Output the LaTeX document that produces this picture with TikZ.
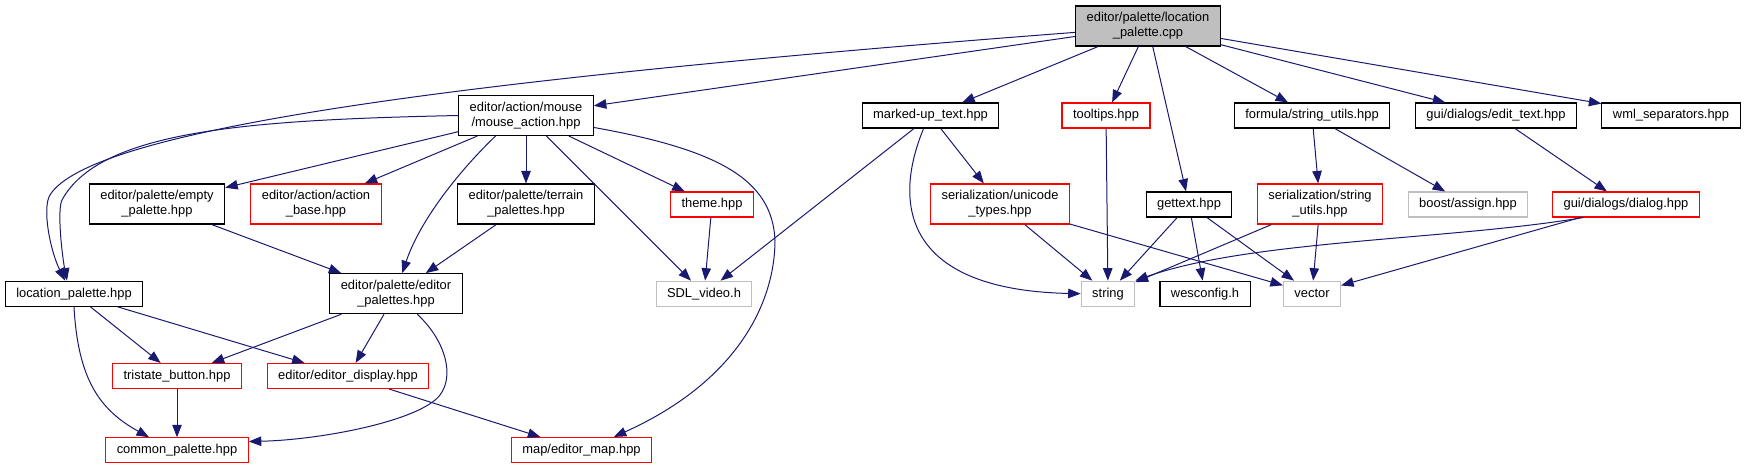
\documentclass[tikz,border=0pt]{standalone}
\usepackage{fontspec}
\setmainfont{Liberation Sans}
\usetikzlibrary{arrows.meta}

\definecolor{edgeblue}{HTML}{191970}
\definecolor{nodegray}{HTML}{BFBFBF}

\begin{document}
\begin{tikzpicture}[
    x=1pt, y=-1pt,
    >={Triangle[length=12.5pt, width=9.5pt]},
    filebox/.style={draw, rectangle, line width=1.1pt, font=\fontsize{12.9}{15}\selectfont, align=center, inner xsep=11pt, inner ysep=2pt, minimum height=25pt},
    twoline/.style={minimum height=40pt},
    redbox/.style={filebox, draw=red},
    graybox/.style={filebox, draw=nodegray},
    rootbox/.style={filebox, twoline, fill=nodegray},
    dep/.style={->, edgeblue, line width=1pt}
]
\useasboundingbox (0,0) rectangle (1745,469);

% 1. Root file
\node[rootbox] (root) at (1148,26) {editor/palette/location\\\_palette.cpp};

% 2. First row of includes
\node[filebox, twoline] (mouse) at (526,115.5) {editor/action/mouse\\/mouse\_action.hpp};
\node[filebox] (marked) at (930.5,115.5) {marked-up\_text.hpp};
\node[redbox] (tooltips) at (1106,115.5) {tooltips.hpp};
\node[filebox] (fstrutil) at (1312,115.5) {formula/string\_utils.hpp};
\node[filebox] (edittext) at (1496,115.5) {gui/dialogs/edit\_text.hpp};
\node[filebox] (wmlsep) at (1671,115.5) {wml\_separators.hpp};

% 3. Second row
\node[filebox, twoline] (empty) at (157,204) {editor/palette/empty\\\_palette.hpp};
\node[redbox, twoline] (actbase) at (316,204) {editor/action/action\\\_base.hpp};
\node[filebox, twoline] (terrain) at (526,204) {editor/palette/terrain\\\_palettes.hpp};
\node[redbox] (theme) at (712,204.5) {theme.hpp};
\node[redbox, twoline] (unicode) at (1000,204) {serialization/unicode\\\_types.hpp};
\node[filebox] (gettext) at (1189,204.5) {gettext.hpp};
\node[redbox, twoline] (sstrutil) at (1320,204) {serialization/string\\\_utils.hpp};
\node[graybox] (assign) at (1468,204.5) {boost/assign.hpp};
\node[redbox] (dialog) at (1626,204.5) {gui/dialogs/dialog.hpp};

% 4. Third row
\node[filebox] (locpal) at (74,293.7) {location\_palette.hpp};
\node[filebox, twoline] (edpal) at (396,293.7) {editor/palette/editor\\\_palettes.hpp};
\node[graybox] (sdl) at (704,293.7) {SDL\_video.h};
\node[graybox] (str) at (1108,293.7) {string};
\node[filebox] (wesconfig) at (1205,293.7) {wesconfig.h};
\node[graybox] (vector) at (1312,293.7) {vector};

% 5. Bottom rows
\node[redbox] (tristate) at (177,376) {tristate\_button.hpp};
\node[redbox] (display) at (348,376) {editor/editor\_display.hpp};
\node[redbox] (common) at (177,450.3) {common\_palette.hpp};
\node[redbox] (edmap) at (581.5,450) {map/editor\_map.hpp};

% 6. Edges from the root
\draw[dep] (root.185) .. controls (450,80) and (90,130) .. (50,195) .. controls (42,208) and (50,250) .. ([xshift=-9pt]locpal.north);
\draw[dep] (root) -- (mouse);
\draw[dep] (root) -- (marked);
\draw[dep] (root) -- (tooltips);
\draw[dep] (root) -- (gettext);
\draw[dep] (root) -- (fstrutil);
\draw[dep] (root) -- (edittext);
\draw[dep] (root) -- (wmlsep);

% 7. Edges from mouse_action.hpp
\draw[dep] (mouse.west) .. controls (250,120) and (100,130) .. (62,200) .. controls (57,210) and (62,255) .. ([xshift=-7pt]locpal.north);
\draw[dep] (mouse) -- (empty);
\draw[dep] (mouse) -- (actbase);
\draw[dep] (mouse.214) .. controls (460,170) and (420,220) .. (edpal.73);
\draw[dep] (mouse) -- (terrain);
\draw[dep] (mouse) -- (theme);
\draw[dep] (mouse) -- (sdl);
\draw[dep] (mouse.-10) .. controls (720,150) and (772,180) .. (775,240) .. controls (775,300) and (740,380) .. (edmap.22);

% 8. Middle edges
\draw[dep] (empty) -- (edpal);
\draw[dep] (terrain) -- (edpal);
\draw[dep] (theme) -- (sdl);
\draw[dep] (marked) -- (sdl);
\draw[dep] (marked.242) .. controls (890,210) and (910,290) .. (str.west);
\draw[dep] (marked) -- (unicode);
\draw[dep] (tooltips) -- (str);
\draw[dep] (unicode) -- (str);
\draw[dep] (unicode) -- (vector);
\draw[dep] (gettext) -- (str);
\draw[dep] (gettext) -- (wesconfig);
\draw[dep] (gettext) -- (vector);
\draw[dep] (fstrutil) -- (sstrutil);
\draw[dep] (fstrutil) -- (assign);
\draw[dep] (sstrutil) -- (str);
\draw[dep] (sstrutil) -- (vector);
\draw[dep] (edittext) -- (dialog);
\draw[dep] (dialog.197) .. controls (1450,240) and (1250,240) .. (str.north east);
\draw[dep] (dialog) -- (vector);

% 9. Lower left edges
\draw[dep] (locpal) -- (tristate);
\draw[dep] (locpal) -- (display);
\draw[dep] (locpal.south) .. controls (78,380) and (100,410) .. (common.155);
\draw[dep] (edpal) -- (tristate);
\draw[dep] (edpal) -- (display);
\draw[dep] (edpal.-44) .. controls (445,340) and (455,375) .. (440,395) .. controls (420,421) and (320,440) .. (common.7);
\draw[dep] (tristate) -- (common);
\draw[dep] (display) -- (edmap);

\end{tikzpicture}
\end{document}
